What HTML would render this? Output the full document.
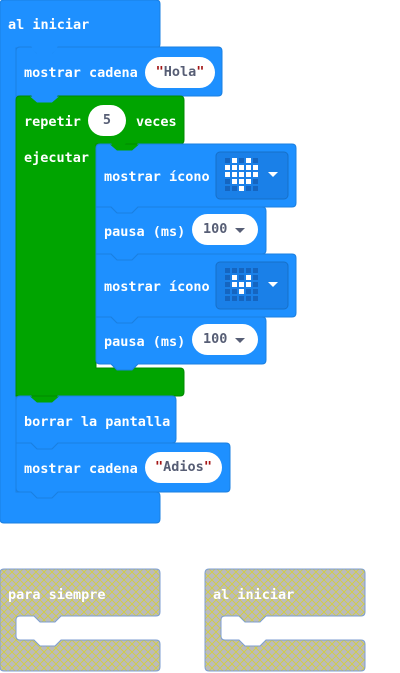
<!DOCTYPE html>
<html><head><style>
body{margin:0;width:400px;height:673px;background:#fff;position:relative;overflow:hidden;font-family:"DejaVu Sans Mono","Liberation Mono",monospace;}
.t{position:absolute;color:#fff;font-size:13.5px;font-weight:bold;white-space:nowrap;line-height:16px;}
.p{position:absolute;background:#fff;border-radius:16px;color:#575e75;font-size:13.5px;font-weight:bold;text-align:center;line-height:31px;height:31px;}
.q{color:#a31515;}
.dd{position:absolute;width:0;height:0;border-left:5px solid transparent;border-right:5px solid transparent;border-top:5px solid #575e75;}
</style></head><body>
<svg width="400" height="673" style="position:absolute;left:0;top:0">
<defs>
<pattern id="h" width="8" height="8" patternUnits="userSpaceOnUse">
<rect width="8" height="8" fill="#bbbbbb"/>
<path d="M0 0L8 8M8 0L0 8" stroke="#d4cf3a" stroke-width="0.8"/>
</pattern>
</defs>
<path d="M4 0H156Q160 0 160 4V44Q160 48 156 48H16V492H156Q160 492 160 496V519Q160 523 156 523H4Q0 523 0 519V4Q0 0 4 0Z" fill="#1e90ff" stroke="#1a7fe0"/>
<path d="M20 47H31L37 53H52L58 47H218Q222 47 222 51V92Q222 96 218 96H58L52 102H37L31 96H16V51Q16 47 20 47Z" fill="#1e90ff" stroke="#1a7fe0"/>
<path d="M20 96H31L37 102H52L58 96H180Q184 96 184 100V140Q184 144 180 144H126L120 150H111L105 144H96V368H180Q184 368 184 372V392Q184 396 180 396H16V100Q16 96 20 96Z" fill="#00a400" stroke="#008a00"/>
<path d="M100 144H111L117 150H132L138 144H292Q296 144 296 148V203Q296 207 292 207H138L132 213H117L111 207H96V148Q96 144 100 144Z" fill="#1e90ff" stroke="#1a7fe0"/>
<path d="M96 207H111L117 213H132L138 207H262Q266 207 266 211V250Q266 254 262 254H138L132 260H117L111 254H96Z" fill="#1e90ff" stroke="#1a7fe0"/>
<path d="M96 254H111L117 260H132L138 254H292Q296 254 296 258V313Q296 317 292 317H138L132 323H117L111 317H96Z" fill="#1e90ff" stroke="#1a7fe0"/>
<path d="M96 317H111L117 323H132L138 317H262Q266 317 266 321V360Q266 364 262 364H138L132 370H117L111 364H100Q96 364 96 360Z" fill="#1e90ff" stroke="#1a7fe0"/>
<path d="M20 396H31L37 402H52L58 396H172Q176 396 176 400V439Q176 443 172 443H58L52 449H37L31 443H16V400Q16 396 20 396Z" fill="#1e90ff" stroke="#1a7fe0"/>
<path d="M16 443H31L37 449H52L58 443H226Q230 443 230 447V488Q230 492 226 492H58L52 498H37L31 492H20Q16 492 16 488Z" fill="#1e90ff" stroke="#1a7fe0"/>
<!-- tabs filling notches -->
<path d="M30 47.5H59L52 53.5H37Z" fill="#1e90ff"/>
<path d="M30 96.5H59L52 102.5H37Z" fill="#1e90ff"/>
<path d="M110 144.5H139L132 150.5H117Z" fill="#00a400"/>
<path d="M30 396.5H59L52 402.5H37Z" fill="#00a400"/>
<rect x="216" y="152" width="72" height="47" rx="4" fill="#1a80e8" stroke="#176fc8"/>
<rect x="216" y="262" width="72" height="47" rx="4" fill="#1a80e8" stroke="#176fc8"/>
<path d="M268 172h10l-5 5z" fill="#fff"/>
<path d="M268 282h10l-5 5z" fill="#fff"/>
<path d="M4 569H156Q160 569 160 573V612Q160 616 156 616H61L55 622H40L34 616H20Q16 616 16 620V636Q16 640 20 640H34L40 646H55L61 640H156Q160 640 160 644V667Q160 671 156 671H4Q0 671 0 667V573Q0 569 4 569Z" fill="url(#h)" stroke="#7c9ed0"/>
<path d="M209 569H361Q365 569 365 573V612Q365 616 361 616H266L260 622H245L239 616H225Q221 616 221 620V636Q221 640 225 640H239L245 646H260L266 640H361Q365 640 365 644V667Q365 671 361 671H209Q205 671 205 667V573Q205 569 209 569Z" fill="url(#h)" stroke="#7c9ed0"/>
<g fill="#1565c0">
<rect x="225" y="158" width="5" height="5"/><rect x="239" y="158" width="5" height="5"/><rect x="253" y="158" width="5" height="5"/>
<rect x="225" y="179" width="5" height="5"/><rect x="253" y="179" width="5" height="5"/>
<rect x="225" y="186" width="5" height="5"/><rect x="232" y="186" width="5" height="5"/><rect x="246" y="186" width="5" height="5"/><rect x="253" y="186" width="5" height="5"/>
</g>
<g fill="#fff">
<rect x="232" y="158" width="5" height="5"/><rect x="246" y="158" width="5" height="5"/>
<rect x="225" y="165" width="5" height="5"/><rect x="232" y="165" width="5" height="5"/><rect x="239" y="165" width="5" height="5"/><rect x="246" y="165" width="5" height="5"/><rect x="253" y="165" width="5" height="5"/>
<rect x="225" y="172" width="5" height="5"/><rect x="232" y="172" width="5" height="5"/><rect x="239" y="172" width="5" height="5"/><rect x="246" y="172" width="5" height="5"/><rect x="253" y="172" width="5" height="5"/>
<rect x="232" y="179" width="5" height="5"/><rect x="239" y="179" width="5" height="5"/><rect x="246" y="179" width="5" height="5"/>
<rect x="239" y="186" width="5" height="5"/>
</g>
<g fill="#1565c0">
<rect x="225" y="268" width="5" height="5"/><rect x="232" y="268" width="5" height="5"/><rect x="239" y="268" width="5" height="5"/><rect x="246" y="268" width="5" height="5"/><rect x="253" y="268" width="5" height="5"/>
<rect x="225" y="275" width="5" height="5"/><rect x="239" y="275" width="5" height="5"/><rect x="253" y="275" width="5" height="5"/>
<rect x="225" y="282" width="5" height="5"/><rect x="253" y="282" width="5" height="5"/>
<rect x="225" y="289" width="5" height="5"/><rect x="232" y="289" width="5" height="5"/><rect x="246" y="289" width="5" height="5"/><rect x="253" y="289" width="5" height="5"/>
<rect x="225" y="296" width="5" height="5"/><rect x="232" y="296" width="5" height="5"/><rect x="239" y="296" width="5" height="5"/><rect x="246" y="296" width="5" height="5"/><rect x="253" y="296" width="5" height="5"/>
</g>
<g fill="#fff">
<rect x="232" y="275" width="5" height="5"/><rect x="246" y="275" width="5" height="5"/>
<rect x="232" y="282" width="5" height="5"/><rect x="239" y="282" width="5" height="5"/><rect x="246" y="282" width="5" height="5"/>
<rect x="239" y="289" width="5" height="5"/>
</g>
</svg>
<div class="t" style="left:8px;top:17px">al iniciar</div>
<div class="t" style="left:24px;top:65px">mostrar cadena</div>
<div class="p" style="left:145px;top:57px;width:70px"><span class="q">"</span>Hola<span class="q">"</span></div>
<div class="t" style="left:24px;top:114px">repetir</div>
<div class="p" style="left:88px;top:105px;width:38px">5</div>
<div class="t" style="left:136px;top:114px">veces</div>
<div class="t" style="left:24px;top:150px">ejecutar</div>
<div class="t" style="left:104px;top:169px">mostrar ícono</div>
<div class="t" style="left:104px;top:224px">pausa (ms)</div>
<div class="p" style="left:192px;top:214px;width:66px;text-align:left;text-indent:11px">100</div>
<div class="dd" style="left:235px;top:228px"></div>
<div class="t" style="left:104px;top:279px">mostrar ícono</div>
<div class="t" style="left:104px;top:334px">pausa (ms)</div>
<div class="p" style="left:192px;top:324px;width:66px;text-align:left;text-indent:11px">100</div>
<div class="dd" style="left:235px;top:338px"></div>
<div class="t" style="left:24px;top:414px">borrar la pantalla</div>
<div class="t" style="left:24px;top:461px">mostrar cadena</div>
<div class="p" style="left:145px;top:452px;width:77px"><span class="q">"</span>Adios<span class="q">"</span></div>
<div class="t" style="left:8px;top:587px">para siempre</div>
<div class="t" style="left:213px;top:587px">al iniciar</div>
</body></html>
